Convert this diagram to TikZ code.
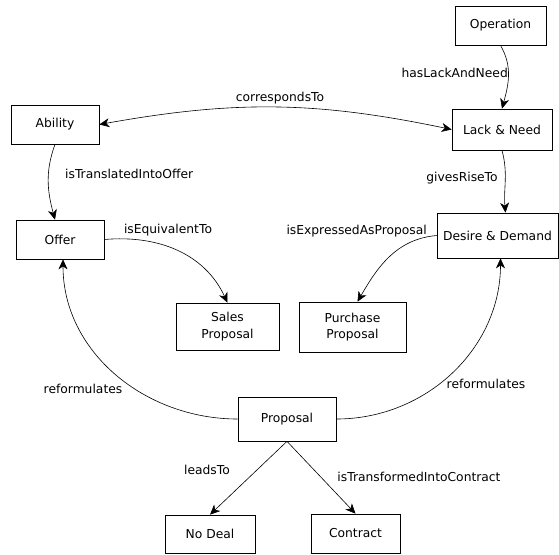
\documentclass[tikz,border=0pt]{standalone}
\usepackage{fontspec}
\setmainfont{DejaVu Sans}
\usetikzlibrary{arrows.meta}
\tikzset{
  box/.style={draw, line width=0.7pt, inner sep=0pt, align=center, font=\fontsize{12.3}{16.5}\selectfont},
  lbl/.style={inner sep=0pt, font=\fontsize{12.3}{14}\selectfont},
  tip/.style={Stealth[length=10pt,width=9pt,inset=3pt]},
  conn/.style={line width=0.6pt, -{Stealth[length=10pt,width=9pt,inset=3pt]}},
}
\begin{document}
\begin{tikzpicture}[x=1pt,y=1pt]
\useasboundingbox (0,0) rectangle (559,-554);
% boxes
\node[box, minimum width=91, minimum height=39] (op) at (500.5,-25.5) {Operation};
\node[box, minimum width=100, minimum height=41] (ln) at (502,-129.5) {Lack \& Need};
\node[box, minimum width=121, minimum height=45] (dd) at (497.5,-235.5) {Desire \& Demand};
\node[box, minimum width=88, minimum height=39] (ab) at (55,-124.5) {Ability};
\node[box, minimum width=88, minimum height=39] (of) at (60,-239.5) {Offer};
\node[box, minimum width=103, minimum height=47] (sp) at (227.5,-326.5) {Sales\\Proposal};
\node[box, minimum width=107, minimum height=50] (pp) at (352.5,-327) {Purchase\\Proposal};
\node[box, minimum width=98, minimum height=44] (pr) at (287,-419) {Proposal};
\node[box, minimum width=90, minimum height=38] (nd) at (210,-534) {No Deal};
\node[box, minimum width=89, minimum height=39] (ct) at (355.5,-533.5) {Contract};
% connectors
\draw[conn] (op.south) to[out=-60,in=75] (ln.north);
\draw[conn] (ln.south) to[out=-75,in=95] ([xshift=8]dd.north);
\draw[conn, {Stealth[length=10pt,width=9pt,inset=3pt]}-{Stealth[length=10pt,width=9pt,inset=3pt]}] (ab.east) to[bend left=11] (ln.west);
\draw[conn] (ab.south) to[out=-110,in=105] ([xshift=-5]of.north);
\draw[conn] (of.east) to[out=5,in=115] (sp.north);
\draw[conn] (dd.west) to[out=185,in=60] ([xshift=5]pp.north);
\draw[conn] (pr.west) to[out=180,in=-90] ([xshift=3]of.south);
\draw[conn] (pr.east) to[out=0,in=-90] ([xshift=3]dd.south);
\draw[conn] (pr.south) -- (nd.north);
\draw[conn] (pr.south) -- (ct.north);
% labels
\node[lbl, anchor=east] (l1) at (508,-73) {hasLackAndNeed};
\node[lbl] (l2) at (462,-178) {givesRiseTo};
\node[lbl] (l3) at (280,-98) {correspondsTo};
\node[lbl, anchor=west] (l4) at (65,-174) {isTranslatedIntoOffer};
\node[lbl] (l5) at (168,-230) {isEquivalentTo};
\node[lbl, anchor=east] (l6) at (427,-231) {isExpressedAsProposal};
\node[lbl] (l7) at (83,-389) {reformulates};
\node[lbl] (l8) at (486,-384) {reformulates};
\node[lbl] (l9) at (207,-470) {leadsTo};
\node[lbl] (l10) at (419,-477) {isTransformedIntoContract};
\end{tikzpicture}
\end{document}
